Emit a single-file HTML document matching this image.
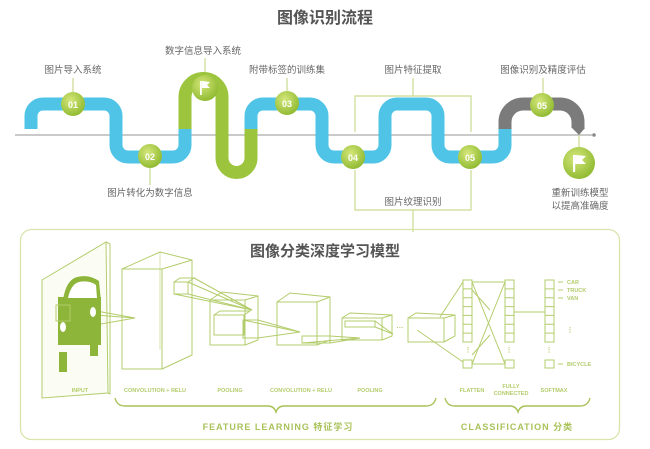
<!DOCTYPE html>
<html><head><meta charset="utf-8"><style>
html,body{margin:0;padding:0;background:#fff;}
body{width:650px;height:444px;overflow:hidden;font-family:"Liberation Sans","Noto Sans CJK SC",sans-serif;}
</style></head><body>
<svg width="650" height="444" viewBox="0 0 650 444" xmlns="http://www.w3.org/2000/svg" font-family="Liberation Sans, Noto Sans CJK SC, sans-serif">
<defs>
<radialGradient id="g" cx="40%" cy="35%" r="70%"><stop offset="0" stop-color="#d4e77a"/><stop offset="1" stop-color="#8db82e"/></radialGradient>
</defs>
<text x="325" y="23" font-size="16" font-weight="bold" fill="#555" text-anchor="middle">图像识别流程</text>
<line x1="15" y1="135" x2="592" y2="135" stroke="#aaa" stroke-width="1.2"/>
<circle cx="594" cy="135" r="1.8" fill="#888"/>
<g stroke="#c9da8f" stroke-width="1.2" fill="none">
<polyline points="355,132 355,96 471,96 471,132"/>
<line x1="413" y1="96" x2="413" y2="78"/>
<polyline points="355,170 355,210 471,210 471,170"/>
<line x1="413" y1="210" x2="413" y2="232"/>
<line x1="73" y1="78" x2="73" y2="92"/>
<line x1="150" y1="168" x2="150" y2="185"/>
<line x1="205" y1="58" x2="205" y2="76"/>
<line x1="287" y1="78" x2="287" y2="91"/>
<line x1="543" y1="78" x2="543" y2="93"/>
<line x1="579" y1="135" x2="579" y2="150"/>
</g>
<g fill="none" stroke-width="13" stroke-linecap="butt">
<path d="M31,129 V116 a12,12 0 0 1 12,-12 H104 a12,12 0 0 1 12,12 V145 a12,12 0 0 0 12,12 H173 a12,12 0 0 0 12,-12 V129" stroke="#4fc4e6"/>
<path d="M185,129 V97 a17,17 0 0 1 37,0 V158 a14.5,14.5 0 0 0 29,0 V129" stroke="#9cc43d"/>
<path d="M251,129 V116 a12,12 0 0 1 12,-12 H310 a12,12 0 0 1 12,12 V145 a12,12 0 0 0 12,12 H373 a12,12 0 0 0 12,-12 V116 a12,12 0 0 1 12,-12 H426 a12,12 0 0 1 12,12 V145 a12,12 0 0 0 12,12 H493 a12,12 0 0 0 12,-12 V129" stroke="#4fc4e6"/>
<path d="M505,129 V122 a18,18 0 0 1 18,-18 H560 a18,18 0 0 1 18,18 V128" stroke="#7b7b7b"/>
</g>
<polygon points="572,128 585,128 579,135" fill="#7b7b7b"/>
<g fill="url(#g)">
<circle cx="73" cy="104" r="12"/><circle cx="150" cy="156" r="12"/><circle cx="205" cy="88" r="13"/>
<circle cx="287" cy="103" r="12"/><circle cx="353" cy="157" r="12"/><circle cx="470" cy="157" r="12"/>
<circle cx="542" cy="105" r="12"/><circle cx="579" cy="163" r="16"/>
</g>
<g fill="#fff" font-size="9" font-weight="bold" text-anchor="middle">
<text x="73" y="108">01</text><text x="150" y="160">02</text><text x="287" y="107">03</text>
<text x="353" y="161">04</text><text x="470" y="161">05</text><text x="542" y="109">05</text>
</g>
<g fill="#fff"><rect x="200" y="81" width="1.8" height="14"/><polygon points="202,81 210,82 207,85 210,88 202,88"/>
<rect x="573" y="155" width="2.2" height="17"/><polygon points="575,155 586,156 582,160 586,164 575,164"/></g>
<g font-size="9.5" fill="#666" text-anchor="middle">
<text x="73" y="73">图片导入系统</text><text x="203" y="54">数字信息导入系统</text>
<text x="287" y="73">附带标签的训练集</text><text x="413" y="73">图片特征提取</text>
<text x="543" y="73">图像识别及精度评估</text><text x="150" y="196">图片转化为数字信息</text>
<text x="413" y="205">图片纹理识别</text><text x="580" y="196">重新训练模型</text><text x="580" y="209">以提高准确度</text>
</g>
<rect x="20.5" y="229.5" width="599" height="210" rx="11" fill="none" stroke="#d8e5ad" stroke-width="1.3"/>
<text x="325" y="256" font-size="15" font-weight="bold" fill="#555" text-anchor="middle">图像分类深度学习模型</text>
<g stroke="#b3cc6b" stroke-width="1" fill="none">
<polygon points="42,280 106,242 108,393 42,398" fill="#fbfdf5"/>
<polyline points="106,242 110,244 110,394 108,393"/>
<rect x="122" y="269" width="40" height="100"/><polyline points="122,269 160,252 192,260 192,355 162,369"/><line x1="162" y1="269" x2="192" y2="260"/><line x1="160" y1="252" x2="160" y2="350" stroke-opacity=".5"/>
<!-- pool1 -->
<rect x="210" y="300" width="35" height="45"/><polyline points="210,300 222,292 258,296 258,340 245,345"/><line x1="245" y1="300" x2="258" y2="296"/>
<rect x="214" y="315" width="30" height="20"/><polyline points="214,315 220,311 250,311 244,315"/>
<rect x="243" y="320" width="15" height="18"/>
<!-- conv2 -->
<rect x="277" y="302" width="40" height="43"/><polyline points="277,302 290,293 330,297 330,340 317,345"/><line x1="317" y1="302" x2="330" y2="297"/>
<rect x="302" y="336" width="28" height="7"/>
<!-- pool2 -->
<rect x="342" y="318" width="40" height="22"/><polyline points="342,318 350,313 392,315 392,336 382,340"/><line x1="382" y1="318" x2="392" y2="315"/>
<rect x="345" y="321" width="30" height="6"/>
<rect x="408" y="318" width="36" height="24"/><polyline points="408,318 416,313 455,315 455,336 444,342"/><line x1="444" y1="318" x2="455" y2="315"/>
<!-- projections -->
<line x1="95" y1="315" x2="135" y2="318"/><line x1="95" y1="325" x2="135" y2="318"/><line x1="80" y1="308" x2="135" y2="318"/>
<rect x="174" y="282" width="14" height="12"/><polyline points="174,282 180,278 194,278 188,282"/>
<line x1="188" y1="282" x2="252" y2="310"/><line x1="188" y1="294" x2="252" y2="310"/><line x1="194" y1="278" x2="252" y2="310"/><line x1="174" y1="294" x2="252" y2="310"/>
<line x1="258" y1="320" x2="300" y2="332"/><line x1="258" y1="338" x2="300" y2="332"/><line x1="243" y1="320" x2="300" y2="332"/>
<line x1="330" y1="336" x2="360" y2="338"/><line x1="330" y1="343" x2="360" y2="338"/><line x1="302" y1="343" x2="360" y2="338"/>
<line x1="375" y1="321" x2="393" y2="334"/><line x1="375" y1="327" x2="393" y2="334"/>
<line x1="417" y1="330" x2="463" y2="362"/><line x1="440" y1="317" x2="463" y2="282"/>
<rect x="463" y="280" width="9" height="62"/><rect x="463" y="360" width="9" height="8"/>
<rect x="505" y="280" width="9" height="62"/><rect x="505" y="360" width="9" height="8"/>
<rect x="545" y="280" width="9" height="62"/><rect x="545" y="360" width="9" height="8"/>
<path d="M463,288.9h9M463,297.7h9M463,306.6h9M463,315.4h9M463,324.3h9M463,333.1h9M505,288.9h9M505,297.7h9M505,306.6h9M505,315.4h9M505,324.3h9M505,333.1h9M545,288.9h9M545,297.7h9M545,306.6h9M545,315.4h9M545,324.3h9M545,333.1h9"/>
<line x1="472" y1="282" x2="505" y2="282"/><line x1="472" y1="364" x2="505" y2="364"/>
<line x1="472" y1="282" x2="505" y2="364"/><line x1="472" y1="364" x2="505" y2="282"/>
<line x1="472" y1="290" x2="490" y2="310"/><line x1="472" y1="355" x2="490" y2="335"/>
<line x1="514" y1="312" x2="545" y2="312"/>
<path d="M558,282h5M558,290h5M558,298h5M558,364h5"/>
<path d="M115,398 q2,8 10,8 H268 q6,0 8,6 q2,-6 8,-6 H426 q8,0 10,-8" stroke="#a9c25a" stroke-width="1.4"/>
<path d="M445,398 q2,8 10,8 H510 q6,0 8,6 q2,-6 8,-6 H580 q8,0 10,-8" stroke="#a9c25a" stroke-width="1.4"/>
</g>
<g fill="#8db53a">
<path d="M63,300 q3,-20 14,-23 q12,-3 22,4 l2,21 z"/>
<path d="M58,297 H101 V345 H58 z"/>
<rect x="59" y="352" width="8" height="20"/><rect x="90" y="337" width="8" height="19"/>
</g>
<g fill="#fff"><path d="M68,298 q3,-14 11,-16 q10,-2 17,3 l1,13 z"/><ellipse cx="63" cy="327" rx="3" ry="5"/><ellipse cx="93" cy="312" rx="3" ry="5"/></g>
<rect x="56" y="305" width="14" height="16" fill="none" stroke="#b3cc6b"/>
<g fill="#b3cc6b" font-size="5.5" font-weight="bold" text-anchor="middle">
<text x="80" y="392">INPUT</text><text x="155" y="392">CONVOLUTION + RELU</text><text x="230" y="392">POOLING</text>
<text x="301" y="392">CONVOLUTION + RELU</text><text x="370" y="392">POOLING</text><text x="472" y="392">FLATTEN</text>
<text x="511" y="388">FULLY</text><text x="511" y="395">CONNECTED</text><text x="554" y="392">SOFTMAX</text>
<text x="400" y="330" font-size="7">···</text>
<text x="567" y="284" text-anchor="start">CAR</text><text x="567" y="292" text-anchor="start">TRUCK</text><text x="567" y="300" text-anchor="start">VAN</text><text x="567" y="366" text-anchor="start">BICYCLE</text>
<text x="468" y="352" font-size="7">⋮</text><text x="509" y="352" font-size="7">⋮</text><text x="549" y="352" font-size="7">⋮</text><text x="570" y="332" font-size="7">⋮</text>
</g>
<g fill="#a9c25a" font-size="9" font-weight="bold" text-anchor="middle">
<text x="278" y="430" letter-spacing="1">FEATURE LEARNING  特征学习</text>
<text x="517" y="430" letter-spacing="1">CLASSIFICATION  分类</text>
</g>
</svg>
</body></html>
